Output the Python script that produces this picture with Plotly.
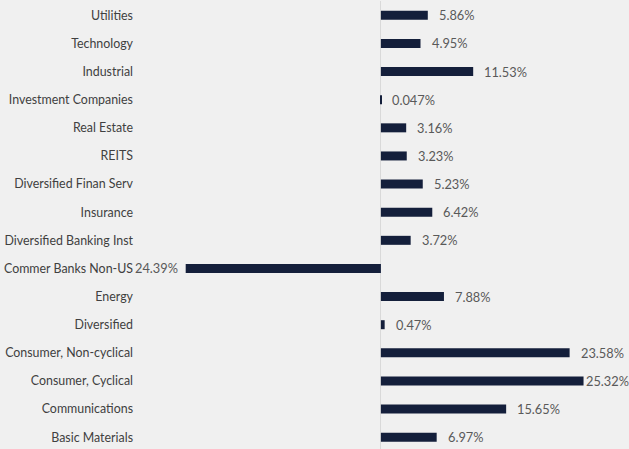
import plotly.graph_objects as go

# sectors listed bottom to top, as they appear on the chart
sectors = [
    "Basic Materials",
    "Communications",
    "Consumer, Cyclical",
    "Consumer, Non-cyclical",
    "Diversified",
    "Energy",
    "Commer Banks Non-US",
    "Diversified Banking Inst",
    "Insurance",
    "Diversified Finan Serv",
    "REITS",
    "Real Estate",
    "Investment Companies",
    "Industrial",
    "Technology",
    "Utilities",
]
returns = [6.97, 15.65, 25.32, 23.58, 0.47, 7.88, -24.39, 3.72, 6.42, 5.23, 3.23, 3.16, 0.047, 11.53, 4.95, 5.86]

labels = [f"{abs(v):g}%" for v in returns]

fig = go.Figure()
fig.add_trace(
    go.Bar(
        x=returns,
        y=sectors,
        orientation="h",
        marker=dict(color="#141f3b", line=dict(width=0)),
        hoverinfo="skip",
    )
)

# data labels, Excel style: small gap after the bar end, pushed in at the chart edge
for v, s, lab in zip(returns, sectors, labels):
    if v < 0:
        fig.add_annotation(x=v, y=s, text=lab, xanchor="right", xshift=-6,
                           showarrow=False, font=dict(size=12.8, color="#595959"))
    else:
        fig.add_annotation(x=v, y=s, text=lab, xanchor="left",
                           xshift=9 if v < 24 else 0,
                           showarrow=False, font=dict(size=12.8, color="#595959"))

fig.update_layout(
    width=629,
    height=449,
    margin=dict(l=140, r=0, t=1, b=0),
    paper_bgcolor="#f0f0f0",
    plot_bgcolor="#f0f0f0",
    font=dict(family="Lato, Carlito, Calibri, sans-serif", size=12, color="#404040"),
    bargap=0.68,
    showlegend=False,
    xaxis=dict(
        range=[-30.1, 31.0],
        showgrid=False,
        showticklabels=False,
        zeroline=True,
        zerolinecolor="#d9d9d9",
        zerolinewidth=1,
        fixedrange=True,
    ),
    yaxis=dict(
        range=[-0.42, 15.51],
        showgrid=False,
        zeroline=False,
        ticks="",
        ticklabelstandoff=6,
        tickfont=dict(size=12.4, color="#404040"),
        fixedrange=True,
    ),
)

# the page's default body margin would shift the chart; drop it
fig.write_html(
    "out.html",
    config={"displayModeBar": False},
    post_script="document.body.style.margin='0';document.body.style.background='#f0f0f0';",
)
